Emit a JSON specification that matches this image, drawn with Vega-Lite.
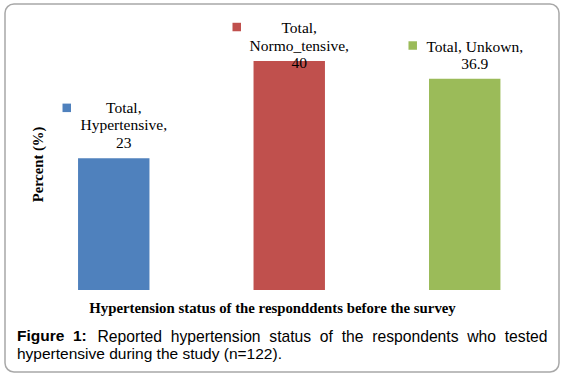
{
  "$schema": "https://vega.github.io/schema/vega-lite/v6.json",
  "width": 554,
  "height": 368,
  "autosize": {"type": "none"},
  "padding": {"left": 5, "top": 4, "right": 6, "bottom": 5},
  "background": "white",
  "config": {"view": {"stroke": "#a8a8a8", "strokeWidth": 1.5, "cornerRadius": 9}},
  "title": {
    "text": "Figure\u00a0\u00a01:",
    "subtitle": "hypertensive during the study (n=122).",
    "orient": "bottom",
    "anchor": "start",
    "frame": "group",
    "dx": 12,
    "offset": -43,
    "font": "Liberation Sans",
    "fontSize": 15.5,
    "fontWeight": "bold",
    "color": "#000000",
    "subtitleFont": "Liberation Sans",
    "subtitleFontSize": 15.5,
    "subtitleFontWeight": "normal",
    "subtitleColor": "#000000",
    "subtitleLineHeight": 17.5,
    "subtitlePadding": 2
  },
  "data": {
    "values": [
      {"cat": "Hypertensive", "pct": 23, "label": "Total,\nHypertensive,\n23"},
      {"cat": "Normo_tensive", "pct": 40, "label": "Total,\nNormo_tensive,\n40"},
      {"cat": "Unkown", "pct": 36.9, "label": "Total, Unkown,\n36.9"}
    ]
  },
  "transform": [{"calculate": "min(datum.pct, 36.9)", "as": "labelY"}],
  "resolve": {"axis": {"x": "independent"}},
  "layer": [
    {
      "mark": {"type": "bar"},
      "encoding": {
        "x": {
          "field": "cat", "type": "nominal", "sort": null,
          "scale": {"paddingInner": 0.593, "paddingOuter": 0.375, "align": 0.555, "round": false},
          "axis": {
            "orient": "bottom",
            "title": "Hypertension status of the responddents before the survey",
            "labels": false, "ticks": false, "domain": false, "grid": false,
            "titleFont": "Liberation Serif", "titleFontSize": 14.8, "titleFontWeight": "bold", "titleColor": "#000000",
            "titleX": 267, "titleY": -60, "titleAlign": "center", "titleBaseline": "alphabetic"
          }
        },
        "y": {
          "field": "pct", "type": "quantitative",
          "scale": {"domain": [-14.32, 49.96], "nice": false, "zero": false},
          "axis": {
            "title": "Percent (%)",
            "labels": false, "ticks": false, "domain": false, "grid": false,
            "titleFont": "Liberation Serif", "titleFontSize": 14.6, "titleFontWeight": "bold", "titleColor": "#000000",
            "titleX": 33, "titleY": 160, "titleAngle": -90, "titleAlign": "center", "titleBaseline": "middle"
          }
        },
        "color": {
          "field": "cat", "type": "nominal",
          "scale": {"domain": ["Hypertensive", "Normo_tensive", "Unkown"], "range": ["#4F81BD", "#C0504D", "#9BBB59"]},
          "legend": null
        }
      }
    },
    {
      "transform": [{"filter": "datum.cat !== 'Unkown'"}],
      "mark": {"type": "text", "font": "Liberation Serif", "fontSize": 15.5, "lineHeight": 17.5, "baseline": "alphabetic", "align": "center", "dx": 10, "dy": -45.5, "lineBreak": "\n", "color": "#000000"},
      "encoding": {
        "x": {
          "field": "cat", "type": "nominal", "sort": null,
          "axis": {
            "orient": "top",
            "title": "Reported\u00a0\u00a0hypertension\u00a0\u00a0status\u00a0\u00a0of\u00a0\u00a0the\u00a0\u00a0respondents\u00a0\u00a0who\u00a0\u00a0tested",
            "labels": false, "ticks": false, "domain": false, "grid": false,
            "titleFont": "Liberation Sans", "titleFontSize": 15.7, "titleFontWeight": "normal", "titleColor": "#000000",
            "titleX": 92, "titleY": 337, "titleAlign": "left", "titleBaseline": "alphabetic"
          }
        },
        "y": {"field": "labelY", "type": "quantitative"},
        "text": {"field": "label", "type": "nominal"}
      }
    },
    {
      "transform": [{"filter": "datum.cat === 'Unkown'"}],
      "mark": {"type": "text", "font": "Liberation Serif", "fontSize": 15.5, "lineHeight": 17.5, "baseline": "alphabetic", "align": "center", "dx": 10, "dy": -27, "lineBreak": "\n", "color": "#000000"},
      "encoding": {
        "x": {"field": "cat", "type": "nominal", "sort": null, "axis": null},
        "y": {"field": "labelY", "type": "quantitative"},
        "text": {"field": "label", "type": "nominal"}
      }
    },
    {
      "transform": [{"filter": "datum.cat === 'Hypertensive'"}],
      "mark": {"type": "square", "size": 72, "filled": true, "opacity": 1, "xOffset": -47, "yOffset": -50.5},
      "encoding": {
        "x": {"field": "cat", "type": "nominal", "sort": null, "axis": null},
        "y": {"field": "labelY", "type": "quantitative"},
        "color": {"field": "cat", "type": "nominal", "legend": null}
      }
    },
    {
      "transform": [{"filter": "datum.cat === 'Normo_tensive'"}],
      "mark": {"type": "square", "size": 72, "filled": true, "opacity": 1, "xOffset": -52.5, "yOffset": -51.75},
      "encoding": {
        "x": {"field": "cat", "type": "nominal", "sort": null, "axis": null},
        "y": {"field": "labelY", "type": "quantitative"},
        "color": {"field": "cat", "type": "nominal", "legend": null}
      }
    },
    {
      "transform": [{"filter": "datum.cat === 'Unkown'"}],
      "mark": {"type": "square", "size": 72, "filled": true, "opacity": 1, "xOffset": -52, "yOffset": -33.25},
      "encoding": {
        "x": {"field": "cat", "type": "nominal", "sort": null, "axis": null},
        "y": {"field": "labelY", "type": "quantitative"},
        "color": {"field": "cat", "type": "nominal", "legend": null}
      }
    }
  ]
}
